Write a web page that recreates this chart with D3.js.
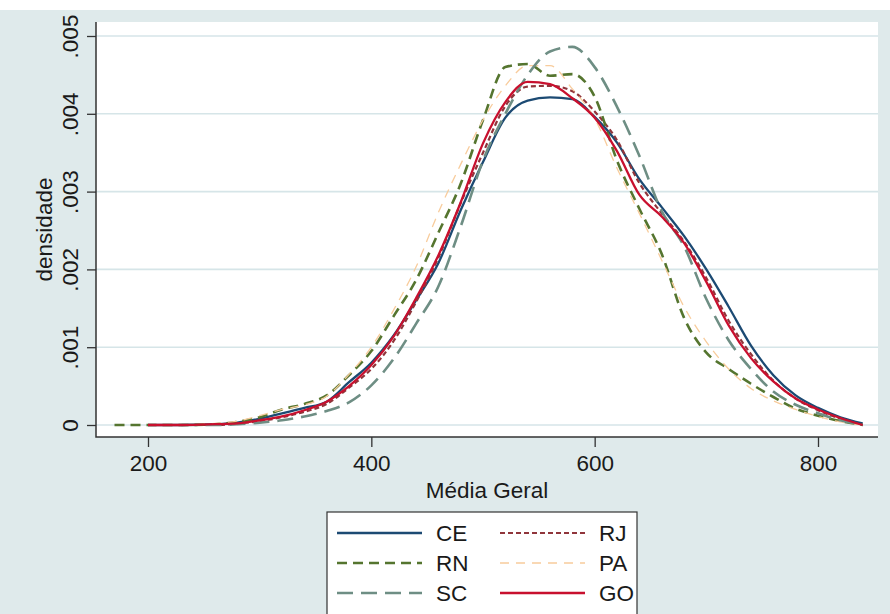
<!DOCTYPE html>
<html>
<head>
<meta charset="utf-8">
<script src="https://cdn.jsdelivr.net/npm/d3@7/dist/d3.min.js"></script>
<style>
    body { margin: 0; background: #fff; }
    svg text { font-family: "Liberation Sans", Arial, sans-serif; fill: #1a1a1a; }
</style>
</head>
<body>
<div id="chart"></div>
<script>
// Média Geral grid (x) and density values for each state
const mediaGeral = [170, 200, 230, 260, 280, 300, 320, 340, 360, 380, 400, 420, 440, 460, 480, 500,
                    520, 540, 560, 580, 600, 620, 640, 660, 680, 700, 720, 740, 760, 780, 800, 820, 840];

const densCE = [null, 0, 0, 0.00001, 0.00003, 0.00008, 0.00015, 0.00022, 0.0003, 0.00055, 0.0008, 0.00115,
                0.0016, 0.00208, 0.00276, 0.00338, 0.00395, 0.00417, 0.00421, 0.00419, 0.00396, 0.00363,
                0.00316, 0.0028, 0.00243, 0.002, 0.00152, 0.00102, 0.00064, 0.00038, 0.00022, 0.0001, 0.00002];
const densRJ = [null, 0, 0, 0, 0.00002, 0.00005, 0.0001, 0.00017, 0.00027, 0.00048, 0.00072, 0.00108,
                0.00158, 0.00215, 0.00285, 0.0035, 0.0041, 0.00435, 0.00436, 0.00429, 0.00403, 0.00366,
                0.00311, 0.00272, 0.00236, 0.00189, 0.00134, 0.00091, 0.00057, 0.00034, 0.00019, 0.00008, 0];
const densRN = [0, 0, 0, 0.00001, 0.00004, 0.0001, 0.0002, 0.00027, 0.00038, 0.00064, 0.00095, 0.0014,
                0.00186, 0.00247, 0.0031, 0.00392, 0.0046, 0.00464, 0.00449, 0.00451, 0.00422, 0.0034,
                0.00278, 0.0022, 0.00138, 0.00093, 0.00072, 0.00053, 0.00036, 0.00021, 0.00012, 0.00005, 0];
const densPA = [null, 0, 0, 0.00002, 0.00005, 0.00012, 0.0002, 0.00026, 0.00037, 0.00065, 0.001, 0.00148,
                0.00203, 0.00273, 0.00335, 0.00392, 0.00436, 0.00462, 0.00462, 0.00432, 0.00394, 0.0033,
                0.00272, 0.00212, 0.00152, 0.00107, 0.00072, 0.00047, 0.00031, 0.0002, 0.00011, 0.00004, 0];
const densSC = [null, null, 0, 0, 0.00001, 0.00003, 0.00006, 0.00011, 0.00018, 0.00029, 0.00051, 0.00085,
                0.0013, 0.00178, 0.00255, 0.0034, 0.004, 0.0045, 0.0048, 0.00486, 0.0046, 0.00409,
                0.00346, 0.00275, 0.0023, 0.00162, 0.00109, 0.00072, 0.00043, 0.00026, 0.00015, 0.00006, 0];
const densGO = [null, 0, 0, 0.00001, 0.00002, 0.00006, 0.00011, 0.00019, 0.0003, 0.0005, 0.00077, 0.00114,
                0.00163, 0.00218, 0.00286, 0.00362, 0.00415, 0.00441, 0.00438, 0.0042, 0.00395, 0.00352,
                0.00296, 0.00268, 0.00234, 0.00184, 0.00128, 0.00086, 0.00056, 0.00034, 0.0002, 0.00009, 0];

const xTicks = [200, 400, 600, 800];
const yTicks = [0, 0.001, 0.002, 0.003, 0.004, 0.005];
const yTickLabels = ["0", ".001", ".002", ".003", ".004", ".005"];

// Draw order = legend order (row by row)
const series = [
    { name: "CE", values: densCE, color: "#1c4a73", width: 2.3, dash: null },
    { name: "RJ", values: densRJ, color: "#90353b", width: 2.2, dash: "5,3" },
    { name: "RN", values: densRN, color: "#55752f", width: 2.6, dash: "10,6" },
    { name: "PA", values: densPA, color: "#f8cc9c", width: 1.3, dash: "9,7" },
    { name: "SC", values: densSC, color: "#6e8e84", width: 2.6, dash: "16,8" },
    { name: "GO", values: densGO, color: "#c8102e", width: 2.3, dash: null }
];

// Dimensions
const width = 890, height = 614;
const plot = { left: 96, right: 878, top: 22, bottom: 437 };
const fontSize = 22.5;

const svg = d3.select("#chart")
    .append("svg")
        .attr("width", width)
        .attr("height", height);

// Backgrounds
svg.append("rect")
    .attr("width", width).attr("height", height)
    .attr("fill", "#dfeaeb");
svg.append("rect")
    .attr("width", width).attr("height", 10)
    .attr("fill", "#ffffff");
svg.append("rect")
    .attr("x", plot.left).attr("y", plot.top)
    .attr("width", plot.right - plot.left).attr("height", plot.bottom - plot.top)
    .attr("fill", "#ffffff");

// Scales
const xScale = d3.scaleLinear()
    .domain([200, 800])
    .range([148, 818]);
const yScale = d3.scaleLinear()
    .domain([0, 0.005])
    .range([425, 36]);

// Gridlines
svg.append("g")
    .selectAll("line")
    .data(yTicks)
    .enter()
    .append("line")
        .attr("x1", plot.left)
        .attr("x2", plot.right)
        .attr("y1", d => yScale(d))
        .attr("y2", d => yScale(d))
        .attr("stroke", "#d6e5e8")
        .attr("stroke-width", 1.6);

// Curves
const line = d3.line()
    .defined(d => d.y !== null)
    .x(d => xScale(d.x))
    .y(d => yScale(d.y))
    .curve(d3.curveMonotoneX);

svg.append("g")
    .selectAll("path")
    .data(series)
    .enter()
    .append("path")
        .attr("d", s => line(mediaGeral.map((x, i) => ({ x: x, y: s.values[i] }))))
        .attr("fill", "none")
        .attr("stroke", s => s.color)
        .attr("stroke-width", s => s.width)
        .attr("stroke-dasharray", s => s.dash)
        .attr("stroke-linejoin", "round");

// X axis
const xAxis = svg.append("g")
    .attr("transform", `translate(0,${plot.bottom})`)
    .call(d3.axisBottom(xScale).tickValues(xTicks).tickSize(10).tickPadding(8));
xAxis.select(".domain").remove();
xAxis.selectAll("line").attr("stroke", "#333").attr("stroke-width", 1.3);
xAxis.selectAll("text")
    .attr("font-size", fontSize)
    .attr("font-family", "Liberation Sans, Arial, sans-serif")
    .attr("fill", "#1a1a1a");

// Y axis with rotated labels
const yAxis = svg.append("g")
    .attr("transform", `translate(${plot.left},0)`)
    .call(d3.axisLeft(yScale).tickValues(yTicks).tickSize(9).tickFormat((d, i) => yTickLabels[i]));
yAxis.select(".domain").remove();
yAxis.selectAll("line").attr("stroke", "#333").attr("stroke-width", 1.3);
yAxis.selectAll("text")
    .attr("x", 0)
    .attr("y", -18)
    .attr("dy", 0)
    .attr("transform", "rotate(-90)")
    .attr("text-anchor", "middle")
    .attr("font-size", fontSize)
    .attr("font-family", "Liberation Sans, Arial, sans-serif")
    .attr("fill", "#1a1a1a");

// Axis lines
svg.append("path")
    .attr("d", `M${plot.left},${plot.top}V${plot.bottom}H${plot.right}`)
    .attr("fill", "none")
    .attr("stroke", "#333")
    .attr("stroke-width", 1.5);

// Axis titles
svg.append("text")
    .attr("x", (plot.left + plot.right) / 2)
    .attr("y", 498)
    .attr("text-anchor", "middle")
    .attr("font-size", fontSize)
    .text("Média Geral");
svg.append("text")
    .attr("transform", `translate(52,${(plot.top + plot.bottom) / 2}) rotate(-90)`)
    .attr("text-anchor", "middle")
    .attr("font-size", fontSize)
    .text("densidade");

// Legend (2 columns, row by row)
const legend = svg.append("g");
legend.append("rect")
    .attr("x", 327).attr("y", 512)
    .attr("width", 310).attr("height", 130)
    .attr("fill", "#ffffff")
    .attr("stroke", "#333")
    .attr("stroke-width", 1.2);

const items = legend.selectAll("g.item")
    .data(series)
    .enter()
    .append("g")
        .attr("class", "item")
        .attr("transform", (d, i) => `translate(${i % 2 === 0 ? 337 : 500},${533 + Math.floor(i / 2) * 30})`);
items.append("line")
    .attr("x1", 0).attr("x2", 85)
    .attr("stroke", d => d.color)
    .attr("stroke-width", d => d.width)
    .attr("stroke-dasharray", d => d.dash);
items.append("text")
    .attr("x", 99)
    .attr("y", 8)
    .attr("font-size", fontSize)
    .text(d => d.name);
</script>
</body>
</html>
